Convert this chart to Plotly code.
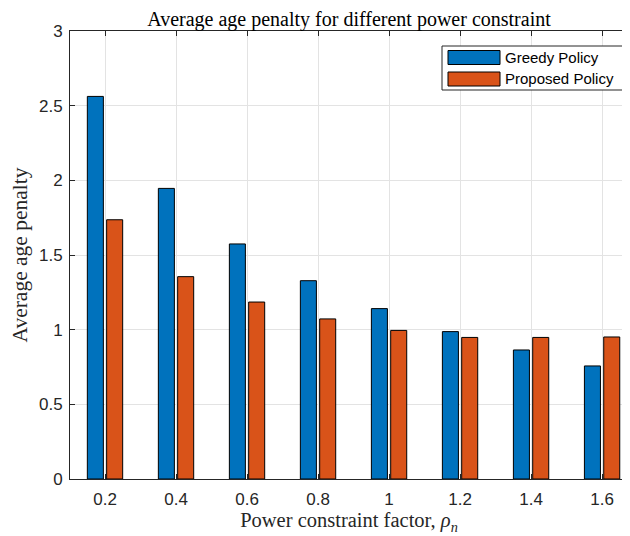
import plotly.graph_objects as go

power_factor = [0.2, 0.4, 0.6, 0.8, 1.0, 1.2, 1.4, 1.6]
tick_labels = ["0.2", "0.4", "0.6", "0.8", "1", "1.2", "1.4", "1.6"]
greedy = [2.562, 1.946, 1.574, 1.328, 1.141, 0.987, 0.864, 0.757]
proposed = [1.736, 1.355, 1.185, 1.072, 0.995, 0.948, 0.948, 0.951]
series_names = ["Greedy Policy", "Proposed Policy"]

BLUE = "#0072BD"
ORANGE = "#D95319"
AXC = "#262626"
GRID = "#e3e3e3"
SERIF = "Liberation Serif, DejaVu Serif, serif"
SANS = "Liberation Sans, Arial, sans-serif"

# page body has an 8px margin, so the figure is drawn at (8, 8)
OFF = 8
FW, FH = 630 - OFF, 536 - OFF

fig = go.Figure()
fig.add_trace(go.Bar(x=power_factor, y=greedy, name=series_names[0],
                     marker=dict(color=BLUE, line=dict(color="black", width=1)),
                     showlegend=False))
fig.add_trace(go.Bar(x=power_factor, y=proposed, name=series_names[1],
                     marker=dict(color=ORANGE, line=dict(color="black", width=1)),
                     showlegend=False))

fig.update_layout(
    width=FW, height=FH,
    margin=dict(l=70 - OFF, r=2, t=31 - OFF, b=57, autoexpand=False),
    paper_bgcolor="white", plot_bgcolor="white",
    barmode="group", bargap=0.456, bargroupgap=0.17,
    title=dict(text="Average age penalty for different power constraint",
               x=0.5, xanchor="center", xref="paper", y=1 - (19 - OFF) / FH,
               yref="container", yanchor="middle", automargin=False,
               font=dict(family=SERIF, size=20, color="black")),
    xaxis=dict(range=[0.1014, 1.673], tickvals=power_factor, ticktext=tick_labels,
               showgrid=True, gridcolor=GRID, gridwidth=1, automargin=False,
               showline=True, linecolor=AXC, linewidth=1, mirror="ticks",
               ticks="inside", ticklen=5, tickcolor=AXC, zeroline=False,
               ticklabelstandoff=5,
               tickfont=dict(family=SANS, size=17, color=AXC),
               title=dict(text="Power constraint factor, <i>ρ</i><sub><i>n</i></sub>",
                          font=dict(family=SERIF, size=20.5, color=AXC), standoff=4)),
    yaxis=dict(range=[0, 3], tickvals=[0, 0.5, 1, 1.5, 2, 2.5, 3],
               ticktext=["0", "0.5", "1", "1.5", "2", "2.5", "3"],
               showgrid=True, gridcolor=GRID, gridwidth=1, automargin=False,
               showline=True, linecolor=AXC, linewidth=1, mirror="ticks",
               ticks="inside", ticklen=5, tickcolor=AXC, zeroline=False,
               ticklabelstandoff=3,
               tickfont=dict(family=SANS, size=17, color=AXC),
               title=dict(text="Average age penalty",
                          font=dict(family=SERIF, size=21.5, color=AXC), standoff=8)),
)

# Legend box (MATLAB-style wide swatches), positioned in plot-area fractions
X0, PW, Y0, PH = 70, 558, 479, 448
def fx(x):
    return (x - X0) / PW
def fy(y):
    return (Y0 - y) / PH
fig.add_shape(type="rect", xref="paper", yref="paper",
              x0=fx(442), x1=fx(623), y0=fy(90), y1=fy(46),
              line=dict(color=AXC, width=1), fillcolor="white", layer="above")
for i, (name, col) in enumerate(zip(series_names, [BLUE, ORANGE])):
    yc = 57.5 + i * 21.5
    fig.add_shape(type="rect", xref="paper", yref="paper",
                  x0=fx(448), x1=fx(500), y0=fy(yc + 7), y1=fy(yc - 7),
                  line=dict(color="black", width=1), fillcolor=col, layer="above")
    fig.add_annotation(xref="paper", yref="paper", x=fx(503),
                       y=fy(yc), xanchor="left", yanchor="middle",
                       text=name, showarrow=False,
                       font=dict(family=SANS, size=15, color="black"))

fig.write_html("out.html")
